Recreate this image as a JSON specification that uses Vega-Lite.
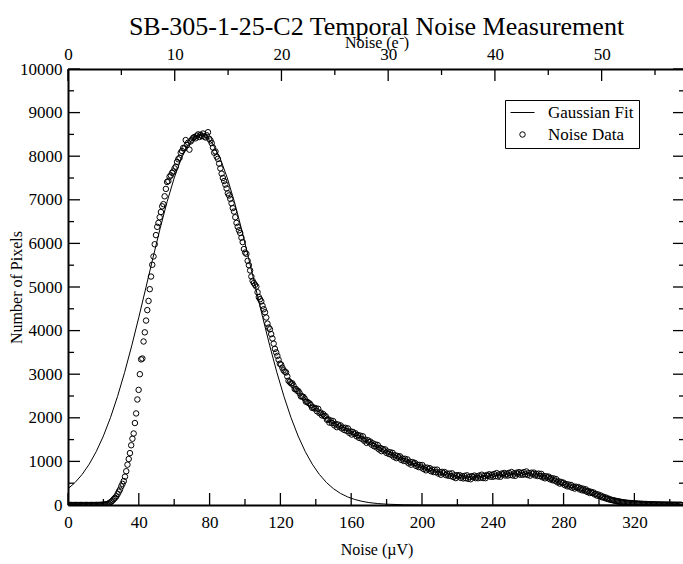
{"$schema":"https://vega.github.io/schema/vega-lite/v6.json","width":617,"height":436,"autosize":{"type":"none"},"padding":{"left":68,"top":69,"right":0,"bottom":59},"background":"white",
"title":{"text":"SB-305-1-25-C2 Temporal Noise Measurement","font":"Liberation Serif","fontSize":26,"fontWeight":"normal","color":"black","anchor":"middle","offset":-6},
"config":{"view":{"stroke":null},"axis":{"grid":false,"ticks":false,"labelFont":"Liberation Serif","titleFont":"Liberation Serif","labelFontSize":17,"titleFontSize":16,"titleFontWeight":"normal","labelColor":"black","titleColor":"black","domainColor":"black","domainWidth":2,"labelFlush":false,"labelOverlap":false,"labelBound":false}},
"datasets":{
"ticksBottom":[{"noise":0},{"noise":40},{"noise":80},{"noise":120},{"noise":160},{"noise":200},{"noise":240},{"noise":280},{"noise":320}],
"ticksBottomMinor":[{"noise":20},{"noise":60},{"noise":100},{"noise":140},{"noise":180},{"noise":220},{"noise":260},{"noise":300},{"noise":340}],
"ticksTop":[{"noise":0},{"noise":60.3},{"noise":120.6},{"noise":180.9},{"noise":241.2},{"noise":301.5}],
"ticksTopMinor":[{"noise":30.15},{"noise":90.45},{"noise":150.75},{"noise":211.05},{"noise":271.35},{"noise":331.65}],
"ticksY":[{"pixels":0},{"pixels":1000},{"pixels":2000},{"pixels":3000},{"pixels":4000},{"pixels":5000},{"pixels":6000},{"pixels":7000},{"pixels":8000},{"pixels":9000},{"pixels":10000}],
"ticksYMinor":[{"pixels":500},{"pixels":1500},{"pixels":2500},{"pixels":3500},{"pixels":4500},{"pixels":5500},{"pixels":6500},{"pixels":7500},{"pixels":8500},{"pixels":9500}],
"fit":[{"noise":0,"pixels":373},{"noise":4,"pixels":516},{"noise":8,"pixels":702},{"noise":12,"pixels":937},{"noise":16,"pixels":1229},{"noise":20,"pixels":1583},{"noise":24,"pixels":2004},{"noise":28,"pixels":2492},{"noise":32,"pixels":3043},{"noise":36,"pixels":3651},{"noise":40,"pixels":4304},{"noise":44,"pixels":4984},{"noise":48,"pixels":5669},{"noise":52,"pixels":6335},{"noise":56,"pixels":6956},{"noise":60,"pixels":7501},{"noise":64,"pixels":7948},{"noise":68,"pixels":8271},{"noise":72,"pixels":8458},{"noise":75,"pixels":8500},{"noise":78,"pixels":8458},{"noise":82,"pixels":8271},{"noise":86,"pixels":7948},{"noise":90,"pixels":7501},{"noise":94,"pixels":6956},{"noise":98,"pixels":6335},{"noise":102,"pixels":5669},{"noise":106,"pixels":4984},{"noise":110,"pixels":4304},{"noise":114,"pixels":3651},{"noise":118,"pixels":3043},{"noise":122,"pixels":2492},{"noise":126,"pixels":2004},{"noise":130,"pixels":1583},{"noise":134,"pixels":1229},{"noise":138,"pixels":937},{"noise":142,"pixels":702},{"noise":146,"pixels":516},{"noise":150,"pixels":373},{"noise":154,"pixels":265},{"noise":158,"pixels":185},{"noise":162,"pixels":127},{"noise":166,"pixels":85},{"noise":170,"pixels":56},{"noise":175,"pixels":33},{"noise":180,"pixels":19},{"noise":190,"pixels":5},{"noise":200,"pixels":1},{"noise":250,"pixels":0},{"noise":300,"pixels":0},{"noise":348.6,"pixels":0}],
"noise":[{"noise":0,"pixels":0},{"noise":0.7,"pixels":0},{"noise":1.4,"pixels":0},{"noise":2.1,"pixels":0},{"noise":2.8,"pixels":0},{"noise":3.5,"pixels":0},{"noise":4.2,"pixels":0},{"noise":4.9,"pixels":0},{"noise":5.6,"pixels":0},{"noise":6.3,"pixels":0},{"noise":7,"pixels":0},{"noise":7.7,"pixels":0},{"noise":8.4,"pixels":0},{"noise":9.1,"pixels":0},{"noise":9.8,"pixels":0},{"noise":10.5,"pixels":0},{"noise":11.2,"pixels":0},{"noise":11.9,"pixels":0},{"noise":12.6,"pixels":0},{"noise":13.3,"pixels":0},
{"noise":14,"pixels":1},{"noise":14.7,"pixels":0},{"noise":15.4,"pixels":1},{"noise":16.1,"pixels":2},{"noise":16.8,"pixels":1},{"noise":17.5,"pixels":3},{"noise":18.2,"pixels":3},{"noise":18.9,"pixels":4},{"noise":19.6,"pixels":6},{"noise":20.3,"pixels":9},{"noise":21,"pixels":12},{"noise":21.7,"pixels":17},{"noise":22.4,"pixels":25},{"noise":23.1,"pixels":36},{"noise":23.8,"pixels":55},{"noise":24.5,"pixels":78},{"noise":25.2,"pixels":104},{"noise":25.9,"pixels":136},{"noise":26.6,"pixels":166},{"noise":27.3,"pixels":198},{"noise":28,"pixels":250},{"noise":28.7,"pixels":305},{"noise":29.4,"pixels":355},{"noise":30.1,"pixels":428},{"noise":30.8,"pixels":485},{"noise":31.5,"pixels":548},{"noise":32.2,"pixels":650},{"noise":32.9,"pixels":775},{"noise":33.6,"pixels":925},{"noise":34.3,"pixels":1055},{"noise":35,"pixels":1190},{"noise":35.7,"pixels":1370},{"noise":36.4,"pixels":1520},{"noise":37.1,"pixels":1640},{"noise":37.8,"pixels":1880},{"noise":38.5,"pixels":2100},{"noise":39.2,"pixels":2420},{"noise":39.9,"pixels":2640},{"noise":40.6,"pixels":3000},{"noise":41.3,"pixels":3340},{"noise":42,"pixels":3360},{"noise":42.7,"pixels":3750},{"noise":43.4,"pixels":3960},{"noise":44.1,"pixels":4230},{"noise":44.8,"pixels":4470},{"noise":45.5,"pixels":4680},{"noise":46.2,"pixels":4950},{"noise":46.9,"pixels":5240},{"noise":47.6,"pixels":5510},{"noise":48.3,"pixels":5700},{"noise":49,"pixels":5980},{"noise":49.7,"pixels":6190},{"noise":50.4,"pixels":6380},{"noise":51.1,"pixels":6470},{"noise":51.8,"pixels":6600},{"noise":52.5,"pixels":6720},{"noise":53.2,"pixels":6850},{"noise":53.9,"pixels":6900},{"noise":54.6,"pixels":7080},{"noise":55.3,"pixels":7250},{"noise":56,"pixels":7410},{"noise":56.7,"pixels":7430},{"noise":57.4,"pixels":7530},{"noise":58.1,"pixels":7560},{"noise":58.8,"pixels":7620},{"noise":59.5,"pixels":7650},{"noise":60.2,"pixels":7720},{"noise":60.9,"pixels":7760},{"noise":61.6,"pixels":7870},{"noise":62.3,"pixels":7930},{"noise":63,"pixels":7960},{"noise":63.7,"pixels":8080},{"noise":64.4,"pixels":8120},{"noise":65.1,"pixels":8190},{"noise":65.8,"pixels":8180},{"noise":66.5,"pixels":8370},{"noise":67.2,"pixels":8260},{"noise":67.9,"pixels":8310},{"noise":68.6,"pixels":8150},{"noise":69.3,"pixels":8340},{"noise":70,"pixels":8380},{"noise":70.7,"pixels":8420},{"noise":71.4,"pixels":8440},{"noise":72.1,"pixels":8410},{"noise":72.8,"pixels":8470},{"noise":73.5,"pixels":8500},{"noise":74.2,"pixels":8440},{"noise":74.9,"pixels":8490},{"noise":75.6,"pixels":8460},{"noise":76.3,"pixels":8520},{"noise":77,"pixels":8450},{"noise":77.7,"pixels":8430},{"noise":78.4,"pixels":8480},{"noise":79.1,"pixels":8550},{"noise":79.8,"pixels":8400},{"noise":80.5,"pixels":8360},{"noise":81.2,"pixels":8300},{"noise":81.9,"pixels":8200},{"noise":82.6,"pixels":8080},{"noise":83.3,"pixels":8110},{"noise":84,"pixels":7990},{"noise":84.7,"pixels":7940},{"noise":85.4,"pixels":7830},{"noise":86.1,"pixels":7720},{"noise":86.8,"pixels":7600},{"noise":87.5,"pixels":7500},{"noise":88.2,"pixels":7430},{"noise":88.9,"pixels":7350},{"noise":89.6,"pixels":7260},{"noise":90.3,"pixels":7150},{"noise":91,"pixels":7100},{"noise":91.7,"pixels":7020},{"noise":92.4,"pixels":6920},{"noise":93.1,"pixels":6810},{"noise":93.8,"pixels":6730},{"noise":94.5,"pixels":6600},{"noise":95.2,"pixels":6470},{"noise":95.9,"pixels":6380},{"noise":96.6,"pixels":6300},{"noise":97.3,"pixels":6240},{"noise":98,"pixels":6130},{"noise":98.7,"pixels":6030},{"noise":99.4,"pixels":5870},{"noise":100.1,"pixels":5790},{"noise":100.8,"pixels":5760},{"noise":101.5,"pixels":5600},{"noise":102.2,"pixels":5500},{"noise":102.9,"pixels":5380},{"noise":103.6,"pixels":5240},{"noise":104.3,"pixels":5140},{"noise":105,"pixels":5090},{"noise":105.7,"pixels":5050},{"noise":106.4,"pixels":5010},{"noise":107.1,"pixels":4880},{"noise":107.8,"pixels":4770},{"noise":108.5,"pixels":4720},{"noise":109.2,"pixels":4670},{"noise":109.9,"pixels":4570},{"noise":110.6,"pixels":4490},{"noise":111.3,"pixels":4420},{"noise":112,"pixels":4300},{"noise":112.7,"pixels":4160},{"noise":113.4,"pixels":4070},{"noise":114.1,"pixels":4030},{"noise":114.8,"pixels":3920},{"noise":115.5,"pixels":3820},{"noise":116.2,"pixels":3700},{"noise":116.9,"pixels":3580},{"noise":117.6,"pixels":3500},{"noise":118.3,"pixels":3420},{"noise":119,"pixels":3330},{"noise":119.7,"pixels":3240},{"noise":120.4,"pixels":3220},{"noise":121.1,"pixels":3150},{"noise":121.8,"pixels":3090},{"noise":122.5,"pixels":3060},{"noise":123.2,"pixels":3040},{"noise":123.9,"pixels":2950},{"noise":124.6,"pixels":2850},{"noise":125.3,"pixels":2820},{"noise":126,"pixels":2790},{"noise":126.7,"pixels":2790},{"noise":127.4,"pixels":2740},{"noise":128.1,"pixels":2660},{"noise":128.8,"pixels":2660},{"noise":129.5,"pixels":2620},{"noise":130.2,"pixels":2610},{"noise":130.9,"pixels":2560},{"noise":131.6,"pixels":2490},{"noise":132.3,"pixels":2490},{"noise":133,"pixels":2480},{"noise":133.7,"pixels":2440},{"noise":134.4,"pixels":2370},{"noise":135.1,"pixels":2370},{"noise":135.8,"pixels":2340},{"noise":136.5,"pixels":2330},{"noise":137.2,"pixels":2290},{"noise":137.9,"pixels":2230},{"noise":138.6,"pixels":2240},{"noise":139.3,"pixels":2210},
{"noise":140,"pixels":2220},{"noise":140.7,"pixels":2150},{"noise":141.4,"pixels":2205},{"noise":142.1,"pixels":2105},{"noise":142.8,"pixels":2120},{"noise":143.5,"pixels":2055},{"noise":144.2,"pixels":2085},{"noise":144.9,"pixels":2040},{"noise":145.6,"pixels":2035},{"noise":146.3,"pixels":1955},{"noise":147,"pixels":1965},{"noise":147.7,"pixels":1890},{"noise":148.4,"pixels":1940},{"noise":149.1,"pixels":1880},{"noise":149.8,"pixels":1925},{"noise":150.5,"pixels":1825},{"noise":151.2,"pixels":1860},{"noise":151.9,"pixels":1785},{"noise":152.6,"pixels":1845},{"noise":153.3,"pixels":1800},{"noise":154,"pixels":1825},{"noise":154.7,"pixels":1755},{"noise":155.4,"pixels":1775},{"noise":156.1,"pixels":1720},{"noise":156.8,"pixels":1770},{"noise":157.5,"pixels":1700},{"noise":158.2,"pixels":1755},{"noise":158.9,"pixels":1655},{"noise":159.6,"pixels":1690},{"noise":160.3,"pixels":1615},{"noise":161,"pixels":1675},{"noise":161.7,"pixels":1630},{"noise":162.4,"pixels":1645},{"noise":163.1,"pixels":1575},{"noise":163.8,"pixels":1605},{"noise":164.5,"pixels":1540},{"noise":165.2,"pixels":1590},{"noise":165.9,"pixels":1520},{"noise":166.6,"pixels":1575},{"noise":167.3,"pixels":1475},{"noise":168,"pixels":1500},{"noise":168.7,"pixels":1425},{"noise":169.4,"pixels":1485},{"noise":170.1,"pixels":1440},{"noise":170.8,"pixels":1455},{"noise":171.5,"pixels":1385},{"noise":172.2,"pixels":1415},{"noise":172.9,"pixels":1350},{"noise":173.6,"pixels":1390},{"noise":174.3,"pixels":1320},{"noise":175,"pixels":1375},{"noise":175.7,"pixels":1275},{"noise":176.4,"pixels":1310},{"noise":177.1,"pixels":1235},{"noise":177.8,"pixels":1285},{"noise":178.5,"pixels":1250},{"noise":179.2,"pixels":1275},{"noise":179.9,"pixels":1195},{"noise":180.6,"pixels":1225},{"noise":181.3,"pixels":1170},{"noise":182,"pixels":1210},{"noise":182.7,"pixels":1150},{"noise":183.4,"pixels":1195},{"noise":184.1,"pixels":1105},{"noise":184.8,"pixels":1140},{"noise":185.5,"pixels":1075},{"noise":186.2,"pixels":1125},{"noise":186.9,"pixels":1090},{"noise":187.6,"pixels":1115},{"noise":188.3,"pixels":1035},{"noise":189,"pixels":1065},{"noise":189.7,"pixels":1010},{"noise":190.4,"pixels":1060},{"noise":191.1,"pixels":1000},{"noise":191.8,"pixels":1045},{"noise":192.5,"pixels":955},{"noise":193.2,"pixels":990},{"noise":193.9,"pixels":925},{"noise":194.6,"pixels":985},{"noise":195.3,"pixels":950},{"noise":196,"pixels":965},{"noise":196.7,"pixels":895},{"noise":197.4,"pixels":925},{"noise":198.1,"pixels":870},{"noise":198.8,"pixels":920},{"noise":199.5,"pixels":860},{"noise":200.2,"pixels":915},{"noise":200.9,"pixels":825},{"noise":201.6,"pixels":860},{"noise":202.3,"pixels":795},{"noise":203,"pixels":855},{"noise":203.7,"pixels":820},{"noise":204.4,"pixels":845},{"noise":205.1,"pixels":775},{"noise":205.8,"pixels":810},{"noise":206.5,"pixels":755},{"noise":207.2,"pixels":810},{"noise":207.9,"pixels":750},{"noise":208.6,"pixels":810},{"noise":209.3,"pixels":720},{"noise":210,"pixels":755},{"noise":210.7,"pixels":695},{"noise":211.4,"pixels":760},{"noise":212.1,"pixels":725},{"noise":212.8,"pixels":755},{"noise":213.5,"pixels":685},{"noise":214.2,"pixels":720},{"noise":214.9,"pixels":670},{"noise":215.6,"pixels":720},{"noise":216.3,"pixels":665},{"noise":217,"pixels":725},{"noise":217.7,"pixels":640},{"noise":218.4,"pixels":678},{"noise":219.1,"pixels":617},{"noise":219.8,"pixels":683},{"noise":220.5,"pixels":655},{"noise":221.2,"pixels":685},{"noise":221.9,"pixels":621},{"noise":222.6,"pixels":658},{"noise":223.3,"pixels":610},{"noise":224,"pixels":668},{"noise":224.7,"pixels":616},{"noise":225.4,"pixels":680},{"noise":226.1,"pixels":600},{"noise":226.8,"pixels":646},{"noise":227.5,"pixels":591},{"noise":228.2,"pixels":662},{"noise":228.9,"pixels":638},{"noise":229.6,"pixels":675},{"noise":230.3,"pixels":616},{"noise":231,"pixels":657},{"noise":231.7,"pixels":614},{"noise":232.4,"pixels":676},{"noise":233.1,"pixels":628},{"noise":233.8,"pixels":695},{"noise":234.5,"pixels":618},{"noise":235.2,"pixels":666},{"noise":235.9,"pixels":615},{"noise":236.6,"pixels":688},{"noise":237.3,"pixels":667},{"noise":238,"pixels":705},{"noise":238.7,"pixels":648},{"noise":239.4,"pixels":691},{"noise":240.1,"pixels":648},{"noise":240.8,"pixels":711},{"noise":241.5,"pixels":663},{"noise":242.2,"pixels":731},{"noise":242.9,"pixels":653},{"noise":243.6,"pixels":700},{"noise":244.3,"pixels":648},{"noise":245,"pixels":720},{"noise":245.7,"pixels":698},{"noise":246.4,"pixels":735},{"noise":247.1,"pixels":677},{"noise":247.8,"pixels":718},{"noise":248.5,"pixels":675},{"noise":249.2,"pixels":737},{"noise":249.9,"pixels":690},{"noise":250.6,"pixels":756},{"noise":251.3,"pixels":677},{"noise":252,"pixels":723},{"noise":252.7,"pixels":669},{"noise":253.4,"pixels":740},{"noise":254.1,"pixels":716},{"noise":254.8,"pixels":753},{"noise":255.5,"pixels":695},{"noise":256.2,"pixels":736},{"noise":256.9,"pixels":693},{"noise":257.6,"pixels":754},{"noise":258.3,"pixels":705},{"noise":259,"pixels":769},{"noise":259.7,"pixels":688},{"noise":260.4,"pixels":731},{"noise":261.1,"pixels":673},{"noise":261.8,"pixels":741},{"noise":262.5,"pixels":712},{"noise":263.2,"pixels":743},{"noise":263.9,"pixels":678},{"noise":264.6,"pixels":713},{"noise":265.3,"pixels":665},{"noise":266,"pixels":720},{"noise":266.7,"pixels":662},{"noise":267.4,"pixels":713},{"noise":268.1,"pixels":635},{"noise":268.8,"pixels":666},{"noise":269.5,"pixels":612},{"noise":270.2,"pixels":658},{"noise":270.9,"pixels":628},{"noise":271.6,"pixels":650},{"noise":272.3,"pixels":590},{"noise":273,"pixels":617},{"noise":273.7,"pixels":569},{"noise":274.4,"pixels":610},{"noise":275.1,"pixels":557},{"noise":275.8,"pixels":593},{"noise":276.5,"pixels":520},{"noise":277.2,"pixels":543},{"noise":277.9,"pixels":491},{"noise":278.6,"pixels":529},{"noise":279.3,"pixels":497},{"noise":280,"pixels":511},{"noise":280.7,"pixels":455},{"noise":281.4,"pixels":479},{"noise":282.1,"pixels":428},{"noise":282.8,"pixels":470},{"noise":283.5,"pixels":422},{"noise":284.2,"pixels":459},{"noise":284.9,"pixels":396},{"noise":285.6,"pixels":424},{"noise":286.3,"pixels":377},{"noise":287,"pixels":420},{"noise":287.7,"pixels":393},{"noise":288.4,"pixels":411},{"noise":289.1,"pixels":358},{"noise":289.8,"pixels":385},{"noise":290.5,"pixels":337},{"noise":291.2,"pixels":372},{"noise":291.9,"pixels":327},{"noise":292.6,"pixels":357},{"noise":293.3,"pixels":301},{"noise":294,"pixels":320},{"noise":294.7,"pixels":275},{"noise":295.4,"pixels":304},{"noise":296.1,"pixels":278},{"noise":296.8,"pixels":288},{"noise":297.5,"pixels":243},{"noise":298.2,"pixels":257},{"noise":298.9,"pixels":216},{"noise":299.6,"pixels":240},{"noise":300.3,"pixels":204},{"noise":301,"pixels":218},{"noise":301.7,"pixels":177},{"noise":302.4,"pixels":191},{"noise":303.1,"pixels":161},{"noise":303.8,"pixels":173},{"noise":304.5,"pixels":141},{"noise":305.2,"pixels":149},{"noise":305.9,"pixels":124},{"noise":306.6,"pixels":126},{"noise":307.3,"pixels":114},{"noise":308,"pixels":110},{"noise":308.7,"pixels":99},{"noise":309.4,"pixels":97},{"noise":310.1,"pixels":87},{"noise":310.8,"pixels":85},{"noise":311.5,"pixels":76},{"noise":312.2,"pixels":74},{"noise":312.9,"pixels":66},{"noise":313.6,"pixels":64},{"noise":314.3,"pixels":57},{"noise":315,"pixels":56},{"noise":315.7,"pixels":50},{"noise":316.4,"pixels":50},{"noise":317.1,"pixels":44},{"noise":317.8,"pixels":44},{"noise":318.5,"pixels":40},{"noise":319.2,"pixels":40},{"noise":319.9,"pixels":36},{"noise":320.6,"pixels":36},{"noise":321.3,"pixels":32},{"noise":322,"pixels":32},{"noise":322.7,"pixels":28},{"noise":323.4,"pixels":29},{"noise":324.1,"pixels":25},{"noise":324.8,"pixels":26},{"noise":325.5,"pixels":23},{"noise":326.2,"pixels":23},{"noise":326.9,"pixels":20},{"noise":327.6,"pixels":21},{"noise":328.3,"pixels":18},{"noise":329,"pixels":19},{"noise":329.7,"pixels":16},{"noise":330.4,"pixels":17},{"noise":331.1,"pixels":14},{"noise":331.8,"pixels":15},{"noise":332.5,"pixels":12},{"noise":333.2,"pixels":13},{"noise":333.9,"pixels":11},{"noise":334.6,"pixels":12},{"noise":335.3,"pixels":9},{"noise":336,"pixels":11},{"noise":336.7,"pixels":8},{"noise":337.4,"pixels":10},{"noise":338.1,"pixels":7},{"noise":338.8,"pixels":9},{"noise":339.5,"pixels":6},{"noise":340.2,"pixels":8},{"noise":340.9,"pixels":6},{"noise":341.6,"pixels":7},{"noise":342.3,"pixels":5},{"noise":343,"pixels":7},{"noise":343.7,"pixels":4},{"noise":344.4,"pixels":6},{"noise":345.1,"pixels":4},{"noise":345.8,"pixels":6},{"noise":346.5,"pixels":4}]},
"resolve":{"axis":{"x":"independent","y":"independent"}},
"layer":[
{"data":{"name":"fit"},"mark":{"type":"line","color":"black","strokeWidth":1,"clip":true},
"encoding":{
"x":{"field":"noise","type":"quantitative","scale":{"domain":[0,348.6],"nice":false,"zero":false},"axis":{"orient":"bottom","values":[0,40,80,120,160,200,240,280,320],"format":"d","labelPadding":9,"labelAngle":0,"title":"Noise (µV)","titlePadding":11}},
"y":{"field":"pixels","type":"quantitative","scale":{"domain":[0,10000],"nice":false,"zero":true},"axis":{"orient":"left","values":[0,1000,2000,3000,4000,5000,6000,7000,8000,9000,10000],"format":"d","labelPadding":6,"title":"Number of Pixels","titlePadding":-5}}}},
{"data":{"name":"noise"},"mark":{"type":"point","filled":false,"color":"black","strokeWidth":1,"opacity":1,"clip":true},
"encoding":{
"x":{"field":"noise","type":"quantitative","scale":{"domain":[0,348.6],"nice":false,"zero":false},"axis":{"orient":"top","values":[0,60.3,120.6,180.9,241.2,301.5],"labelExpr":"format(datum.value/6.03,'.0f')","labelPadding":6,"labelAngle":0,"title":"Noise (e⁻)","titlePadding":-5}},
"y":{"field":"pixels","type":"quantitative","scale":{"domain":[0,10000],"nice":false,"zero":true},"axis":{"orient":"right","labels":false,"title":null}},
"shape":{"datum":"Noise Data","type":"nominal","scale":{"domain":["Gaussian Fit","Noise Data"],"range":["stroke","circle"]},"legend":{"orient":"none","legendX":437,"legendY":31,"title":null,"labelFont":"Liberation Serif","labelFontSize":17,"labelColor":"black","strokeColor":"black","fillColor":"white","padding":5,"symbolStrokeColor":"black","symbolFillColor":"transparent","symbolStrokeWidth":1,"labelOffset":13,"clipHeight":15,"rowPadding":4}},
"size":{"datum":"Noise Data","type":"nominal","scale":{"domain":["Gaussian Fit","Noise Data"],"range":[576,30]},"legend":{"orient":"none","legendX":437,"legendY":31,"title":null}}}},
{"data":{"name":"ticksBottom"},"mark":{"type":"rule","color":"black","strokeWidth":1.3},
"encoding":{"x":{"field":"noise","type":"quantitative","axis":null},"y":{"datum":0,"type":"quantitative","axis":null},"y2":{"datum":275}}},
{"data":{"name":"ticksBottomMinor"},"mark":{"type":"rule","color":"black","strokeWidth":1.3},
"encoding":{"x":{"field":"noise","type":"quantitative","axis":null},"y":{"datum":0,"type":"quantitative","axis":null},"y2":{"datum":138}}},
{"data":{"name":"ticksTop"},"mark":{"type":"rule","color":"black","strokeWidth":1.3},
"encoding":{"x":{"field":"noise","type":"quantitative","axis":null},"y":{"datum":10000,"type":"quantitative","axis":null},"y2":{"datum":9725}}},
{"data":{"name":"ticksTopMinor"},"mark":{"type":"rule","color":"black","strokeWidth":1.3},
"encoding":{"x":{"field":"noise","type":"quantitative","axis":null},"y":{"datum":10000,"type":"quantitative","axis":null},"y2":{"datum":9862}}},
{"data":{"name":"ticksY"},"mark":{"type":"rule","color":"black","strokeWidth":1.3},
"encoding":{"y":{"field":"pixels","type":"quantitative","axis":null},"x":{"datum":0,"type":"quantitative","axis":null},"x2":{"datum":6.78}}},
{"data":{"name":"ticksYMinor"},"mark":{"type":"rule","color":"black","strokeWidth":1.3},
"encoding":{"y":{"field":"pixels","type":"quantitative","axis":null},"x":{"datum":0,"type":"quantitative","axis":null},"x2":{"datum":3.39}}},
{"data":{"name":"ticksY"},"mark":{"type":"rule","color":"black","strokeWidth":1.3},
"encoding":{"y":{"field":"pixels","type":"quantitative","axis":null},"x":{"datum":348.6,"type":"quantitative","axis":null},"x2":{"datum":341.82}}},
{"data":{"name":"ticksYMinor"},"mark":{"type":"rule","color":"black","strokeWidth":1.3},
"encoding":{"y":{"field":"pixels","type":"quantitative","axis":null},"x":{"datum":348.6,"type":"quantitative","axis":null},"x2":{"datum":345.21}}}
]}
